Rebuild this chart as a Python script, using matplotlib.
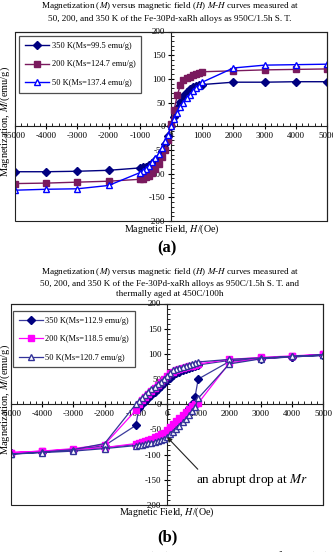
import matplotlib
matplotlib.use("Agg")
import matplotlib.pyplot as plt
from matplotlib.patches import Rectangle
from matplotlib.ticker import MultipleLocator, FixedLocator, FixedFormatter

plt.rcParams['font.family'] = ['Liberation Serif', 'DejaVu Serif']
plt.rcParams['mathtext.fontset'] = 'stix'

# ---------------- data ----------------
x_ticks = [-5000, -4000, -3000, -2000, -1000, 0, 1000, 2000, 3000, 4000, 5000]
x_tick_labels = ['-5000', '-4000', '-3000', '-2000', '-1000', '0', '1000', '2000', '3000', '4000', '5000']
y_ticks = [-200, -150, -100, -50, 0, 50, 100, 150, 200]
y_tick_labels = ['-200', '-150', '-100', '-50', '0', '50', '100', '150', '200']

H_down = [5000, 4000, 3000, 2000, 1000, 900, 800, 700, 600, 500, 400, 300, 200, 100, 0,
          -100, -200, -300, -400, -500, -600, -700, -800, -900, -1000, -2000, -3000, -4000, -5000]
H_up = [-5000, -4000, -3000, -2000, -1000, -900, -800, -700, -600, -500, -400, -300, -200, -100, 0,
        100, 200, 300, 400, 500, 600, 700, 800, 900, 1000, 2000, 3000, 4000, 5000]

# panel (a): as 950C/1.5h S.T.
labels_a = ['350 K(Ms=99.5 emu/g)', '200 K(Ms=124.7 emu/g)', '50 K(Ms=137.4 emu/g)']
M_a_350 = [94, 94, 93, 93, 88, 87, 85, 82, 78, 72, 64, 52, 38, 20, 0,
           -20, -38, -52, -64, -72, -78, -82, -85, -87, -88, -93, -95, -96, -96]
M_a_200 = [121, 120, 119, 117, 115, 112, 110, 108, 105, 102, 97, 87, 65, 35, 5,
           -30, -50, -65, -80, -90, -98, -104, -108, -111, -112, -116, -118, -120, -121]
M_a_50 = [131, 130, 129, 123, 93, 86, 80, 74, 67, 59, 50, 40, 29, 15, 0,
          -18, -32, -46, -58, -68, -76, -84, -90, -94, -98, -125, -132, -133, -135]

# panel (b): aged at 450C/100h
labels_b = ['350 K(Ms=112.9 emu/g)', '200 K(Ms=118.5 emu/g)', '50 K(Ms=120.7 emu/g)']
M_b_350_down = [97, 94, 91, 87, 78, 76, 74, 72, 70, 68, 65, 62, 58, 53, 48,
                42, 36, 30, 24, 18, 12, 6, 0, -8, -42, -82, -90, -94, -97]
M_b_350_up = [-97, -94, -90, -86, -80, -78, -76, -74, -72, -70, -68, -66, -64, -60, -55,
              -50, -44, -38, -32, -25, -17, -8, 0, 15, 50, 85, 90, 94, 97]
M_b_200_down = [99, 96, 93, 89, 80, 78, 76, 75, 73, 71, 69, 67, 64, 62, 57,
                50, 44, 38, 32, 26, 20, 14, 8, 0, -12, -80, -88, -93, -96]
M_b_200_up = [-96, -93, -90, -86, -78, -77, -75, -73, -71, -69, -66, -63, -60, -57, -52,
              -45, -39, -33, -27, -21, -15, -9, -4, 0, 2, 82, 91, 95, 99]
M_b_50_down = [98, 95, 92, 89, 84, 82, 80, 78, 76, 74, 72, 70, 67, 62, 57,
               51, 45, 40, 35, 30, 25, 19, 13, 7, 0, -78, -90, -95, -99]
M_b_50_up = [-99, -96, -93, -88, -82, -81, -80, -79, -77, -76, -74, -72, -70, -68, -65,
             -60, -55, -49, -43, -36, -29, -22, -14, -6, 12, 80, 90, 95, 98]

title_a = ("Magnetization ($M$) versus magnetic field ($H$) $M$-$H$ curves measured at\n"
           "50, 200, and 350 K of the Fe-30Pd-xaRh alloys as 950C/1.5h S. T.")
title_b = ("Magnetization ($M$) versus magnetic field ($H$) $M$-$H$ curves measured at\n"
           "50, 200, and 350 K of the Fe-30Pd-xaRh alloys as 950C/1.5h S. T. and\n"
           "thermally aged at 450C/100h")
xlabel = "Magnetic Field, $H$/(Oe)"
ylabel = "Magnetization, $M$/(emu/g)"
annot_text = "an abrupt drop at $Mr$"

# ---------------- figure ----------------
W, H = 333, 552
fig = plt.figure(figsize=(W / 100, H / 100), dpi=100)
fig.patch.set_facecolor('white')


def px_axes(l, t, r, b):
    return fig.add_axes([l / W, 1 - b / H, (r - l) / W, (b - t) / H])


def style_axes(ax):
    ax.set_xlim(-5000, 5000)
    ax.set_ylim(-200, 200)
    ax.spines['left'].set_position(('data', 0))
    ax.spines['bottom'].set_position(('data', 0))
    for s in ['left', 'bottom', 'top', 'right']:
        ax.spines[s].set_linewidth(0.8)
        ax.spines[s].set_color('#222222')
    ax.add_patch(Rectangle((0, 0), 1, 1, transform=ax.transAxes, fill=False,
                           lw=0.8, edgecolor='#222222', clip_on=False, zorder=5))
    ax.xaxis.set_major_locator(FixedLocator(x_ticks))
    ax.xaxis.set_major_formatter(FixedFormatter(x_tick_labels))
    ax.yaxis.set_major_locator(FixedLocator(y_ticks))
    ax.yaxis.set_major_formatter(FixedFormatter(y_tick_labels))
    ax.xaxis.set_minor_locator(MultipleLocator(200))
    ax.yaxis.set_minor_locator(MultipleLocator(10))
    ax.tick_params(which='major', direction='inout', length=5, width=0.8, labelsize=6.5, pad=1.5)
    ax.tick_params(which='minor', direction='in', length=2.5, width=0.6)
    ax.tick_params(axis='x', which='both', top=False)
    ax.tick_params(axis='y', which='both', right=False)


# Panel (a)
axa = px_axes(15, 31.5, 327, 221)
style_axes(axa)
axa.plot(H_down, M_a_350, color='#000080', lw=1.0, marker='D', ms=4.2, mfc='#000080', mec='#000080',
         label=labels_a[0], zorder=3)
axa.plot(H_down, M_a_200, color='#7a1a5e', lw=1.0, marker='s', ms=4.4, mfc='#7a1a5e', mec='#7a1a5e',
         label=labels_a[1], zorder=3)
axa.plot(H_down, M_a_50, color='#0000ff', lw=1.0, marker='^', ms=5, mfc='white', mec='#0000ff',
         mew=1.0, label=labels_a[2], zorder=4)
leg = axa.legend(loc='upper left', bbox_to_anchor=(0.013, 0.975), borderaxespad=0,
                 fontsize=6, frameon=True, fancybox=False, edgecolor='#222222',
                 handlelength=2.9, labelspacing=1.25, borderpad=0.7, handletextpad=0.3)
leg.get_frame().set_linewidth(0.9)

fig.text(0.51, 1 - 11.5 / H, title_a, ha='center', va='center', fontsize=6.6, linespacing=1.4)
fig.text(172 / W, 1 - 229 / H, xlabel, ha='center', va='center', fontsize=7.2)
fig.text(5 / W, 1 - 122 / H, ylabel, ha='center', va='center', rotation=90, fontsize=7.5)
fig.text(167 / W, 1 - 248 / H, "(a)", ha='center', va='center', fontsize=12, fontweight='bold')

# Panel (b)
axb = px_axes(11, 303.5, 323, 505)
style_axes(axb)
axb.plot(H_down + H_up, M_b_350_down + M_b_350_up, color='#3b3b9c', lw=0.9, marker='D', ms=4.2,
         mfc='#000080', mec='#000080', label=labels_b[0], zorder=3)
axb.plot(H_down + H_up, M_b_200_down + M_b_200_up, color='#ff00ff', lw=0.9, marker='s', ms=4.4,
         mfc='#ff00ff', mec='#ff00ff', label=labels_b[1], zorder=3)
axb.plot(H_down + H_up, M_b_50_down + M_b_50_up, color='#333399', lw=0.9, marker='^', ms=5,
         mfc='white', mec='#333399', mew=1.0, label=labels_b[2], zorder=4)
legb = axb.legend(loc='upper left', bbox_to_anchor=(0.006, 0.963), borderaxespad=0,
                  fontsize=6, frameon=True, fancybox=False, edgecolor='#222222',
                  handlelength=2.9, labelspacing=1.25, borderpad=0.7, handletextpad=0.3)
legb.get_frame().set_linewidth(0.9)

axb.annotate(annot_text, xy=(0, -65), xycoords='data',
             xytext=(196 / W, 1 - 480 / H), textcoords='figure fraction',
             ha='left', va='center', fontsize=9.5,
             arrowprops=dict(arrowstyle='-|>', color='#222222', lw=0.8, shrinkA=0, shrinkB=0,
                             mutation_scale=7, relpos=(0.06, 0.85)), zorder=6)

fig.text(0.51, 1 - 282 / H, title_b, ha='center', va='center', fontsize=6.6, linespacing=1.4)
fig.text(167 / W, 1 - 512 / H, xlabel, ha='center', va='center', fontsize=7.2)
fig.text(5 / W, 1 - 400 / H, ylabel, ha='center', va='center', rotation=90, fontsize=7.5)
fig.text(167 / W, 1 - 537 / H, "(b)", ha='center', va='center', fontsize=12, fontweight='bold')

# caption partially cut at the bottom edge
fig.text(0.52, 1 - 558 / H, "Fig. 3 Magnetization ($M$) versus magnetic field ($H$)",
         ha='center', va='center', fontsize=11)

fig.savefig("out.png", dpi=100, facecolor='white')
